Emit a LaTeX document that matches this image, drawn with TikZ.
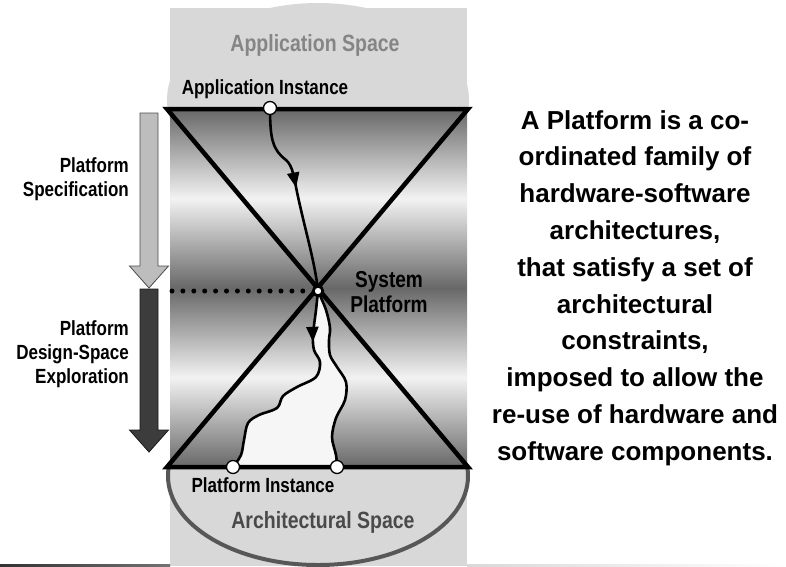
\documentclass[tikz,border=0pt]{standalone}
\usepackage{fontspec}
\setmainfont{Liberation Sans}
\newfontfamily\narrowsans[FakeStretch=0.83]{Liberation Sans}
\usetikzlibrary{calc,positioning,decorations.markings,arrows.meta,backgrounds}

\definecolor{spacegray}{HTML}{D8D8D8}
\definecolor{banddark}{HTML}{686868}
\definecolor{bandlight}{HTML}{F2F2F2}
\definecolor{specgray}{HTML}{BDBDBD}
\definecolor{explgray}{HTML}{3C3C3C}
\definecolor{archline}{HTML}{575757}
\definecolor{appgray}{HTML}{858585}
\definecolor{archgray}{HTML}{4A4A4A}
\definecolor{instwhite}{HTML}{F6F6F6}

\pgfdeclareverticalshading{bandshade}{100bp}{color(0bp)=(banddark); color(25bp)=(banddark);
  color(37.5bp)=(bandlight); color(50bp)=(banddark); color(62.5bp)=(bandlight);
  color(75bp)=(banddark); color(100bp)=(banddark)}

\begin{document}
\begin{tikzpicture}[
                x=1pt, y=-1pt,
                sidetext/.style={font=\narrowsans\bfseries\fontsize{20.5}{24}\selectfont, inner sep=0pt},
                spacetext/.style={font=\narrowsans\bfseries\fontsize{23.5}{27}\selectfont, inner sep=0pt},
                systext/.style={font=\narrowsans\bfseries\fontsize{23}{25}\selectfont, inner sep=0pt, align=center},
                deftext/.style={font=\bfseries\fontsize{26}{36.8}\selectfont, inner sep=0pt, align=center},
                instdot/.style={circle, draw, line width=1.3pt, fill=white, minimum size=13pt, inner sep=0pt},
                sysdot/.style={circle, draw, line width=2.8pt, fill=white, minimum size=9.5pt, inner sep=0pt},
                hourglass/.style={line width=4.5pt, line join=miter},
                route/.style={line width=2.6pt},
                routearrow/.style={postaction={decorate}, decoration={markings,
                    mark=at position #1 with {\arrow{Triangle[length=15pt,width=12pt]}}}},
                dotline/.style={line width=5pt, line cap=round, dash pattern=on 0pt off 10.9pt},
                specarrow/.style={fill=specgray, draw=black!70, line width=.8pt},
                explarrow/.style={fill=explgray, draw=black!90, line width=.8pt}
            ]
                \useasboundingbox (0,0) rectangle (786,566);

                % instances and the system platform
                \node[sysdot]  (sysplat) at (318,291) {};
                \node[instdot] (appinst) at (270,108) {};
                \node[instdot] (instL)   at (233,467) {};
                \node[instdot] (instR)   at (337,467) {};

                \coordinate (tl) at (167,109);
                \coordinate (tr) at (468,109);
                \coordinate (bl) at (167,467);
                \coordinate (br) at (468,467);
                \coordinate (dotstart) at (172,291);

                \begin{pgfonlayer}{background}
                    % application and architectural spaces
                    \fill[spacegray] (170,8) rectangle (467,566);
                    \fill[spacegray] (318,100) ellipse [x radius=151pt, y radius=97pt];
                    \begin{scope}
                        \clip (160,467) rectangle (480,566);
                        \draw[archline, line width=4pt, fill=spacegray] (318,476) ellipse [x radius=150pt, y radius=89pt];
                    \end{scope}
                    \shade[shading=bandshade] (170,109) rectangle (467,467);

                    % platform instances reachable from the system platform
                    \filldraw[route, fill=instwhite, routearrow=0.1]
                        plot[smooth, tension=.55] coordinates {(sysplat.center) (316,310) (313,335) (314,350) (320,362)
                            (316,377) (297,387) (283,396) (277,408) (259,415) (248,423) (244,440) (241,455) (instL.center)}
                        -- plot[smooth, tension=.55] coordinates {(instR.center) (336,455) (332,437) (336,418) (345,400)
                            (346,382) (337,367) (330,355) (329,340) (330,328) (326,310) (sysplat.center)}
                        -- cycle;

                    \draw[dotline, shorten >=9pt] (dotstart) -- (sysplat.center);
                    \draw[hourglass] (tl) -- (tr) -- (bl) -- (br) -- cycle;

                    % refinement of the application instance
                    \draw[route, routearrow=0.45] (appinst.center) .. controls (270,140) and (273,150) .. (286,160)
                        .. controls (293,166) and (294,178) .. (297,192)
                        .. controls (305,230) and (315,262) .. (sysplat.center);

                    % the two design flows
                    \draw[specarrow] (140,113) -- (158,113) -- (158,266) -- (168.5,266) -- (149,288)
                        -- (129.5,266) -- (140,266) -- cycle;
                    \draw[explarrow] (140,289) -- (158,289) -- (158,430) -- (168.5,430) -- (149,452)
                        -- (129.5,430) -- (140,430) -- cycle;

                    % bottom rule of the slide
                    \shade[left color=black!80, right color=black!55] (0,564.8) rectangle (170,566);
                    \shade[left color=black!15, right color=white] (467,564.8) rectangle (786,566);
                \end{pgfonlayer}

                \node[spacetext, text=appgray] (appspace)  at (315,45)  {Application Space};
                \node[sidetext]                (appinsttext) at (265,89) {Application Instance};
                \node[systext]                 (systext)   at (389,292) {System\\Platform};
                \node[sidetext]                (instText)  at (263,485) {Platform Instance};
                \node[spacetext, text=archgray] (archspace) at (323,522) {Architectural Space};
                \node[sidetext, align=right, anchor=east] (spectext) at (129,179) {Platform\\Specification};
                \node[sidetext, align=right, anchor=east] (expltext) at (129,354) {Platform\\Design-Space\\Exploration};
                \node[deftext] (definition) at (635,288) {A Platform is a co-\\ordinated family of\\hardware-software\\architectures,\\that satisfy a set of\\architectural\\constraints,\\imposed to allow the\\re-use of hardware and\\software components.};
            \end{tikzpicture}
\end{document}
